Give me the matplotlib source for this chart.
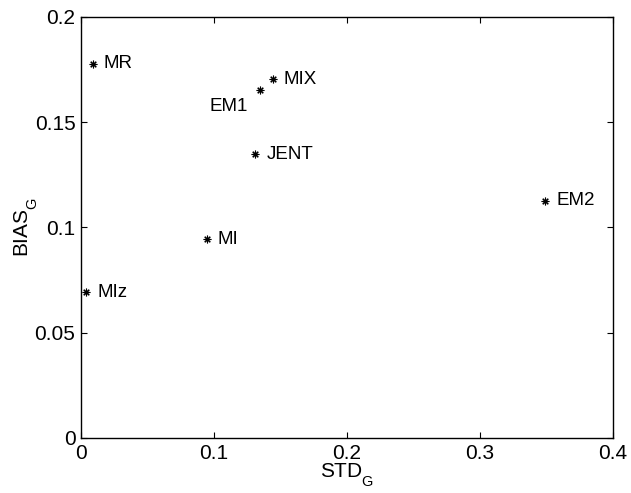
import matplotlib
matplotlib.use("Agg")
import matplotlib.pyplot as plt

plt.rcParams['font.family'] = ['Liberation Sans', 'DejaVu Sans']
plt.rcParams['mathtext.fontset'] = 'custom'
plt.rcParams['mathtext.rm'] = 'Liberation Sans'
plt.rcParams['mathtext.default'] = 'regular'

# MATLAB drops subscripts lower than matplotlib does
try:
    from matplotlib import _mathtext
    _mathtext.FontConstantsBase.sub1 = 0.9
except Exception:
    pass

methods = ["MR", "MIX", "EM1", "JENT", "MI", "MIz", "EM2"]
std_g = [0.0088, 0.144, 0.1346, 0.131, 0.0945, 0.0038, 0.349]
bias_g = [0.1777, 0.1705, 0.1653, 0.1349, 0.0944, 0.0692, 0.1126]

# label offsets in pixels (most sit just right of the marker)
label_offsets = {"EM1": (-12, -16)}

fig = plt.figure(figsize=(6.31, 4.93), dpi=100)
ax = fig.add_axes([0.1284, 0.1116, 0.8431, 0.854])

ax.plot(std_g, bias_g, linestyle='none', marker=(8, 2, 0), markersize=5.5,
        color='black', markeredgewidth=0.8)

for name, x, y in zip(methods, std_g, bias_g):
    dx, dy = label_offsets.get(name, (11, 0))
    ha = 'right' if dx < 0 else 'left'
    ax.annotate(name, (x, y), xytext=(dx, dy), textcoords='offset pixels',
                ha=ha, va='center', fontsize=13.5)

ax.set_xlim(0, 0.4)
ax.set_ylim(0, 0.2)
ax.set_xticks([0, 0.1, 0.2, 0.3, 0.4])
ax.set_xticklabels(['0', '0.1', '0.2', '0.3', '0.4'])
ax.set_yticks([0, 0.05, 0.1, 0.15, 0.2])
ax.set_yticklabels(['0', '0.05', '0.1', '0.15', '0.2'])
ax.tick_params(direction='in', length=4, width=0.8, top=True, right=True,
               labelsize=15)
ax.tick_params(axis='x', pad=4)
ax.tick_params(axis='y', pad=4)
for sp in ax.spines.values():
    sp.set_linewidth(1.0)

ax.set_xlabel('STD$_G$', fontsize=15, labelpad=-1)
ax.set_ylabel('BIAS$_G$', fontsize=15, labelpad=-4)

plt.savefig("out.png", dpi=100)
